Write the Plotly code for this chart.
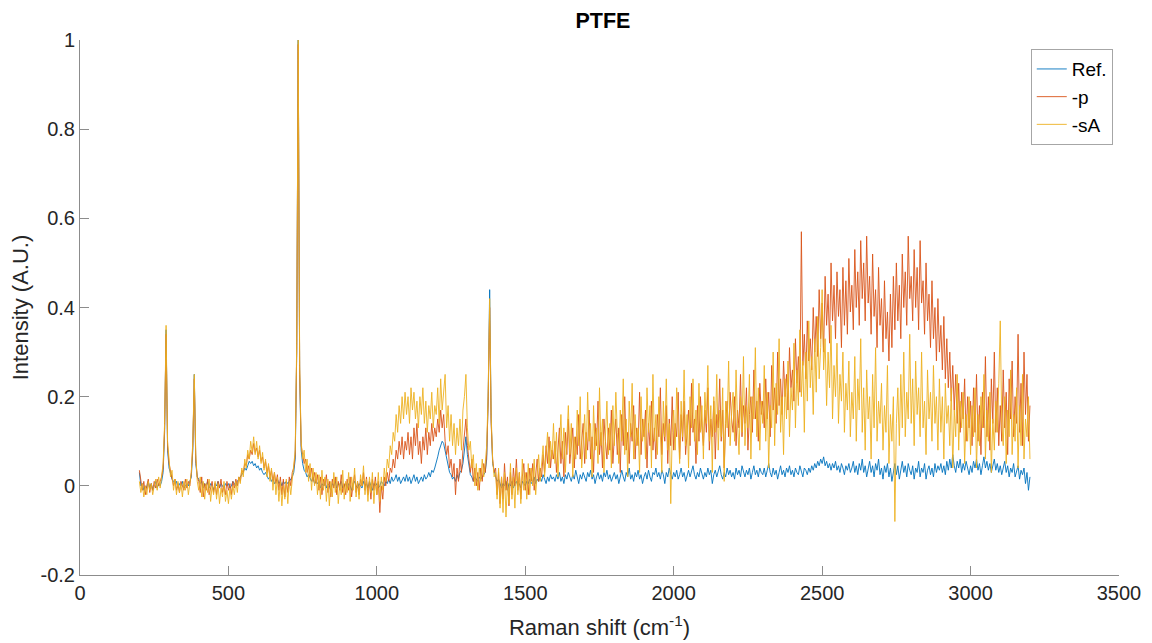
import plotly.graph_objects as go

# Raman shift sample positions (cm^-1), 5 cm^-1 spacing
shift = list(range(200, 3201, 5))

ref = [
    0.03, 0.00, 0.005, -0.01, 0.00, -0.005, 0.01, -0.005, 0.005, -0.01, 0.00, 0.01, -0.005, 0.005, 0.00, 0.01, 0.03, 0.12, 0.35, 0.08,
    0.04, 0.025, 0.015, 0.01, 0.005, 0.01, -0.005, 0.005, 0.00, 0.01, -0.005, 0.00, 0.005, 0.00, 0.01, 0.02, 0.08, 0.25, 0.05, 0.02,
    0.015, 0.005, 0.01, -0.005, 0.005, 0.00, 0.01, -0.005, 0.005, 0.00, -0.01, 0.005, 0.00, 0.01, -0.005, 0.005, 0.00, -0.005, 0.005, 0.00,
    0.005, -0.005, 0.00, 0.01, 0.005, 0.00, 0.01, 0.015, 0.02, 0.025, 0.03, 0.04, 0.035, 0.045, 0.055, 0.05, 0.055, 0.045, 0.05, 0.04,
    0.045, 0.035, 0.04, 0.03, 0.025, 0.03, 0.02, 0.015, 0.02, 0.01, 0.015, 0.005, 0.01, 0.015, 0.005, 0.01, 0.00, 0.01, 0.005, 0.01,
    0.005, 0.01, 0.015, 0.02, 0.03, 0.06, 0.30, 1.00, 0.25, 0.08, 0.05, 0.035, 0.03, 0.02, 0.025, 0.015, 0.01, 0.02, 0.005, 0.01,
    0.005, 0.01, -0.005, 0.005, 0.00, 0.01, -0.005, 0.005, 0.00, -0.01, 0.005, 0.00, 0.01, -0.005, 0.005, 0.00, 0.01, -0.005, 0.00, 0.005,
    -0.005, 0.005, 0.00, -0.01, 0.005, 0.01, 0.00, -0.005, 0.005, 0.00, -0.005, 0.01, 0.00, 0.005, -0.005, 0.01, 0.00, -0.01, 0.005, 0.00,
    0.005, -0.005, 0.00, 0.01, 0.005, 0.00, 0.01, 0.005, 0.015, 0.005, 0.02, 0.01, 0.015, 0.025, 0.01, 0.02, 0.005, 0.015, 0.02, 0.01,
    0.025, 0.01, 0.02, 0.005, 0.015, 0.025, 0.01, 0.02, 0.005, 0.015, 0.02, 0.01, 0.025, 0.015, 0.02, 0.03, 0.02, 0.035, 0.03, 0.04,
    0.05, 0.065, 0.08, 0.09, 0.10, 0.095, 0.08, 0.06, 0.045, 0.03, 0.025, 0.015, 0.02, 0.01, 0.025, 0.015, 0.03, 0.035, 0.05, 0.08,
    0.11, 0.07, 0.04, 0.025, 0.02, 0.01, 0.02, 0.015, 0.01, 0.02, 0.015, 0.02, 0.025, 0.03, 0.06, 0.20, 0.44, 0.15, 0.05, 0.03,
    0.02, 0.01, 0.015, 0.005, -0.005, 0.005, 0.00, 0.01, -0.01, 0.005, 0.00, 0.01, -0.005, 0.005, 0.01, 0.00, 0.005, -0.005, 0.01, 0.005,
    0.00, 0.01, 0.005, 0.015, 0.005, 0.01, 0.02, 0.005, 0.015, 0.01, 0.02, 0.01, 0.025, 0.015, 0.005, 0.02, 0.01, 0.025, 0.015, 0.02,
    0.01, 0.025, 0.015, 0.03, 0.01, 0.02, 0.005, 0.025, 0.015, 0.03, 0.02, 0.01, 0.025, 0.015, 0.035, 0.02, 0.005, 0.025, 0.015, 0.03,
    0.02, 0.01, 0.03, 0.02, 0.035, 0.015, 0.025, 0.005, 0.02, 0.03, 0.015, 0.025, 0.01, 0.03, 0.02, 0.035, 0.015, 0.025, 0.01, 0.02,
    0.03, 0.015, 0.025, 0.005, 0.02, 0.035, 0.02, 0.01, 0.03, 0.02, 0.04, 0.015, 0.025, 0.01, 0.03, 0.02, 0.035, 0.015, 0.025, 0.005,
    0.02, 0.03, 0.015, 0.035, 0.02, 0.01, 0.03, 0.025, 0.04, 0.02, 0.03, 0.015, 0.035, 0.025, 0.005, 0.03, 0.02, 0.04, 0.025, 0.015,
    0.03, 0.02, 0.035, 0.015, 0.025, 0.04, 0.02, 0.03, 0.01, 0.025, 0.035, 0.02, 0.03, 0.045, 0.025, 0.015, 0.03, 0.02, 0.04, 0.025,
    0.015, 0.03, 0.02, 0.04, 0.025, 0.035, 0.005, 0.025, 0.035, 0.02, 0.03, 0.045, 0.025, 0.015, 0.03, 0.02, 0.04, 0.025, 0.035, 0.02,
    0.03, 0.015, 0.04, 0.025, 0.035, 0.02, 0.045, 0.03, 0.02, 0.035, 0.025, 0.04, 0.015, 0.03, 0.045, 0.025, 0.035, 0.02, 0.04, 0.03,
    0.025, 0.04, 0.02, 0.035, 0.05, 0.03, 0.02, 0.04, 0.025, 0.035, 0.015, 0.03, 0.045, 0.025, 0.035, 0.02, 0.04, 0.03, 0.045, 0.025,
    0.035, 0.02, 0.04, 0.03, 0.025, 0.045, 0.03, 0.02, 0.04, 0.035, 0.025, 0.04, 0.03, 0.045, 0.035, 0.05, 0.04, 0.055, 0.045, 0.06,
    0.05, 0.065, 0.045, 0.055, 0.04, 0.05, 0.035, 0.05, 0.04, 0.055, 0.035, 0.045, 0.03, 0.05, 0.04, 0.025, 0.045, 0.035, 0.05, 0.03,
    0.04, 0.055, 0.03, 0.045, 0.025, 0.05, 0.035, 0.06, 0.03, 0.045, 0.02, 0.04, 0.055, 0.03, 0.045, 0.02, 0.05, 0.035, 0.06, 0.025,
    0.04, 0.015, 0.045, 0.03, 0.05, 0.02, 0.04, 0.01, 0.035, 0.05, 0.025, 0.045, 0.015, 0.04, 0.055, 0.03, 0.045, 0.02, 0.05, 0.035,
    0.025, 0.045, 0.015, 0.04, 0.03, 0.055, 0.02, 0.04, 0.03, 0.05, 0.015, 0.035, 0.045, 0.025, 0.04, 0.02, 0.05, 0.03, 0.045, 0.035,
    0.05, 0.03, 0.045, 0.025, 0.055, 0.035, 0.06, 0.04, 0.07, 0.045, 0.03, 0.055, 0.04, 0.06, 0.03, 0.05, 0.035, 0.055, 0.04, 0.025,
    0.045, 0.03, 0.055, 0.04, 0.06, 0.035, 0.05, 0.025, 0.045, 0.065, 0.04, 0.055, 0.035, 0.05, 0.03, 0.045, 0.06, 0.035, 0.05, 0.03,
    0.045, 0.025, 0.04, 0.055, 0.03, 0.045, 0.02, 0.04, 0.03, 0.05, 0.02, 0.035, 0.045, 0.015, 0.035, 0.025, 0.04, 0.005, 0.03, -0.01,
    0.02,
]

p = [
    0.035, 0.005, -0.01, 0.01, -0.02, 0.00, 0.015, -0.015, 0.005, -0.01, 0.01, -0.005, 0.015, 0.00, 0.01, 0.02, 0.04, 0.13, 0.34, 0.09,
    0.05, 0.03, 0.02, 0.00, 0.015, -0.01, 0.005, -0.015, 0.01, 0.00, -0.01, 0.015, -0.005, 0.01, 0.00, 0.03, 0.09, 0.24, 0.06, 0.02,
    0.01, -0.015, 0.02, -0.025, 0.005, -0.01, 0.015, -0.02, 0.00, 0.01, -0.015, 0.005, -0.02, 0.01, -0.005, 0.015, -0.015, 0.00, -0.02, 0.01,
    -0.01, 0.005, -0.02, 0.01, -0.005, 0.015, 0.00, 0.02, 0.01, 0.035, 0.03, 0.05, 0.045, 0.07, 0.06, 0.08, 0.07, 0.095, 0.075, 0.085,
    0.065, 0.08, 0.055, 0.065, 0.04, 0.055, 0.03, 0.045, 0.02, 0.035, 0.01, 0.03, 0.005, 0.025, -0.01, 0.02, -0.02, 0.015, -0.025, 0.01,
    -0.015, 0.02, 0.00, 0.03, 0.04, 0.07, 0.30, 0.99, 0.26, 0.09, 0.07, 0.05, 0.06, 0.03, 0.045, 0.02, 0.04, 0.01, 0.03, 0.005,
    0.025, -0.01, 0.02, -0.02, 0.015, 0.00, 0.025, -0.015, 0.01, -0.025, 0.015, -0.005, 0.02, -0.02, 0.01, -0.01, 0.025, -0.015, 0.005, -0.02,
    0.015, -0.01, 0.02, -0.025, 0.005, 0.025, -0.015, 0.01, -0.02, 0.015, 0.00, 0.03, -0.01, 0.02, -0.02, 0.01, -0.03, 0.015, -0.01, 0.02,
    -0.02, 0.01, -0.06, 0.00, -0.03, 0.02, 0.00, 0.03, 0.01, 0.04, 0.03, 0.06, 0.04, 0.08, 0.06, 0.10, 0.07, 0.11, 0.06, 0.10,
    0.08, 0.12, 0.07, 0.11, 0.06, 0.13, 0.09, 0.14, 0.07, 0.10, 0.05, 0.11, 0.08, 0.13, 0.07, 0.12, 0.09, 0.14, 0.10, 0.13,
    0.11, 0.15, 0.12, 0.17, 0.13, 0.16, 0.10, 0.07, 0.09, 0.04, 0.06, 0.02, 0.05, -0.02, 0.04, 0.01, 0.06, 0.03, 0.08, 0.12,
    0.15, 0.09, 0.05, 0.03, 0.06, 0.01, 0.04, 0.00, 0.03, -0.01, 0.04, 0.01, 0.05, 0.03, 0.07, 0.19, 0.40, 0.14, 0.06, 0.03,
    0.04, -0.02, 0.03, -0.04, 0.02, -0.03, 0.05, -0.01, 0.02, -0.045, 0.03, -0.02, 0.04, 0.00, 0.06, -0.01, 0.03, -0.03, 0.02, 0.05,
    -0.01, 0.03, -0.02, 0.04, 0.01, 0.05, -0.01, 0.03, 0.06, 0.01, 0.04, 0.02, 0.07, 0.03, 0.09, 0.05, 0.11, 0.04, 0.08, 0.06,
    0.10, 0.03, 0.08, 0.13, 0.05, 0.10, 0.02, 0.12, 0.07, 0.15, 0.05, 0.09, 0.13, 0.04, 0.11, 0.07, 0.16, 0.06, 0.10, 0.14,
    0.05, 0.12, 0.08, 0.17, 0.06, 0.11, 0.03, 0.14, 0.09, 0.19, 0.07, 0.12, 0.04, 0.15, 0.10, 0.06, 0.13, 0.08, 0.17, 0.05,
    0.11, 0.15, 0.07, 0.13, 0.03, 0.16, 0.09, 0.20, 0.08, 0.12, 0.05, 0.14, 0.10, 0.18, 0.06, 0.13, 0.09, 0.21, 0.07, 0.15,
    0.11, 0.17, 0.04, 0.14, 0.09, 0.19, 0.08, 0.13, 0.06, 0.16, 0.11, 0.22, 0.07, 0.14, 0.10, 0.18, 0.05, 0.15, 0.09, 0.20,
    0.08, 0.14, 0.11, 0.21, 0.06, 0.16, 0.10, 0.19, 0.07, 0.13, 0.17, 0.09, 0.23, 0.12, 0.15, 0.05, 0.18, 0.10, 0.20, 0.13,
    0.09, 0.17, 0.12, 0.22, 0.08, 0.15, 0.11, 0.19, 0.06, 0.16, 0.13, 0.24, 0.10, 0.17, 0.04, 0.14, 0.19, 0.11, 0.21, 0.15,
    0.12, 0.20, 0.09, 0.17, 0.13, 0.25, 0.11, 0.18, 0.14, 0.22, 0.08, 0.16, 0.20, 0.12, 0.26, 0.15, 0.19, 0.10, 0.23, 0.16,
    0.19, 0.13, 0.24, 0.15, 0.21, 0.11, 0.27, 0.17, 0.22, 0.14, 0.30, 0.18, 0.24, 0.16, 0.28, 0.20, 0.25, 0.17, 0.31, 0.22,
    0.26, 0.19, 0.33, 0.23, 0.29, 0.21, 0.57, 0.27, 0.34, 0.24, 0.37, 0.28, 0.33, 0.26, 0.40, 0.30, 0.38, 0.29, 0.44, 0.33,
    0.41, 0.30, 0.47, 0.36, 0.43, 0.32, 0.50, 0.37, 0.45, 0.33, 0.48, 0.38, 0.44, 0.31, 0.49, 0.36, 0.46, 0.34, 0.51, 0.39,
    0.45, 0.35, 0.53, 0.40, 0.48, 0.36, 0.55, 0.42, 0.50, 0.37, 0.56, 0.41, 0.47, 0.34, 0.52, 0.38, 0.44, 0.31, 0.49, 0.36,
    0.42, 0.30, 0.46, 0.33, 0.39, 0.28, 0.43, 0.31, 0.47, 0.35, 0.50, 0.37, 0.45, 0.33, 0.52, 0.40, 0.48, 0.36, 0.56, 0.42,
    0.47, 0.37, 0.53, 0.40, 0.49, 0.35, 0.55, 0.41, 0.46, 0.34, 0.50, 0.37, 0.43, 0.31, 0.46, 0.33, 0.40, 0.28, 0.42, 0.30,
    0.36, 0.26, 0.38, 0.24, 0.33, 0.22, 0.30, 0.19, 0.27, 0.17, 0.25, 0.14, 0.23, 0.12, 0.21, 0.15, 0.24, 0.10, 0.20, 0.13,
    0.19, 0.09, 0.22, 0.12, 0.25, 0.10, 0.18, 0.07, 0.21, 0.13, 0.29, 0.11, 0.20, 0.08, 0.24, 0.14, 0.30, 0.12, 0.22, 0.09,
    0.18, 0.10, 0.26, 0.13, 0.21, 0.07, 0.24, 0.15, 0.28, 0.11, 0.20, 0.14, 0.34, 0.12, 0.23, 0.09, 0.30, 0.16, 0.25, 0.10,
    0.18,
]

sA = [
    0.01, -0.015, 0.005, -0.025, 0.00, -0.02, 0.01, -0.01, 0.005, -0.02, 0.00, 0.015, -0.01, 0.02, -0.005, 0.02, 0.05, 0.14, 0.36, 0.10,
    0.06, 0.02, 0.035, -0.01, 0.015, -0.02, 0.01, -0.015, 0.005, -0.025, 0.01, -0.01, 0.015, -0.02, 0.005, 0.03, 0.10, 0.25, 0.07, 0.01,
    -0.01, 0.02, -0.025, 0.01, -0.03, 0.005, -0.015, 0.015, -0.035, 0.00, -0.02, 0.01, -0.03, 0.005, -0.04, -0.005, -0.025, 0.01, -0.035, -0.01,
    -0.04, -0.005, -0.03, 0.00, -0.02, 0.01, -0.015, 0.02, 0.005, 0.04, 0.02, 0.06, 0.04, 0.08, 0.06, 0.10, 0.075, 0.11, 0.07, 0.10,
    0.06, 0.09, 0.05, 0.075, 0.035, 0.06, 0.02, 0.05, 0.01, 0.04, -0.01, 0.03, -0.02, 0.02, -0.035, 0.01, -0.045, 0.00, -0.03, 0.015,
    -0.04, 0.01, -0.02, 0.02, 0.045, 0.08, 0.32, 1.00, 0.27, 0.10, 0.06, 0.08, 0.03, 0.06, 0.01, 0.05, -0.01, 0.04, 0.00, 0.03,
    -0.02, 0.025, -0.03, 0.035, -0.01, 0.02, -0.035, 0.015, -0.045, 0.01, -0.025, 0.03, -0.015, 0.02, -0.04, 0.005, -0.02, 0.035, -0.03, 0.01,
    -0.015, 0.03, -0.035, 0.02, -0.01, 0.04, -0.025, 0.01, -0.03, 0.025, 0.00, 0.045, -0.02, 0.015, -0.035, 0.02, -0.015, 0.03, -0.04, 0.01,
    -0.02, 0.03, -0.035, 0.02, -0.01, 0.04, 0.01, 0.06, 0.04, 0.09, 0.07, 0.12, 0.10, 0.16, 0.12, 0.18, 0.14, 0.20, 0.15, 0.21,
    0.16, 0.20, 0.14, 0.22, 0.17, 0.21, 0.15, 0.19, 0.13, 0.20, 0.16, 0.22, 0.14, 0.19, 0.12, 0.18, 0.15, 0.21, 0.13, 0.18,
    0.16, 0.22, 0.14, 0.24, 0.17, 0.21, 0.25, 0.13, 0.18, 0.10, 0.16, 0.09, 0.14, 0.07, 0.13, 0.09, 0.15, 0.08, 0.17, 0.20,
    0.25, 0.13, 0.08, 0.10, 0.04, 0.07, 0.00, 0.05, -0.01, 0.04, 0.01, 0.06, 0.02, 0.05, 0.09, 0.21, 0.42, 0.16, 0.06, 0.02,
    0.03, -0.03, 0.04, -0.05, 0.02, -0.06, 0.03, -0.07, 0.01, -0.04, 0.05, -0.03, 0.02, -0.05, 0.04, -0.02, 0.03, -0.04, 0.06, -0.01,
    0.03, -0.03, 0.05, -0.02, 0.04, 0.00, 0.06, -0.02, 0.03, 0.07, 0.01, 0.05, 0.09, 0.02, 0.07, 0.12, 0.04, 0.10, 0.06, 0.14,
    0.05, 0.12, 0.02, 0.09, 0.16, 0.06, 0.13, 0.03, 0.10, 0.18, 0.07, 0.14, 0.02, 0.11, 0.06, 0.17, 0.09, 0.20, 0.04, 0.12,
    0.16, 0.06, 0.21, 0.10, 0.14, 0.02, 0.18, 0.08, 0.13, 0.05, 0.22, 0.09, 0.15, 0.03, 0.12, 0.19, 0.07, 0.14, 0.04, 0.18,
    0.09, 0.21, 0.12, 0.05, 0.17, 0.10, 0.24, 0.07, 0.15, 0.02, 0.19, 0.11, 0.23, 0.06, 0.16, 0.09, 0.13, 0.03, 0.20, 0.10,
    0.15, 0.06, 0.22, 0.12, 0.18, 0.04, 0.25, 0.10, 0.16, 0.07, 0.20, 0.13, 0.03, 0.19, 0.11, 0.24, 0.08, 0.14, -0.04, 0.12,
    0.17, 0.08, 0.22, 0.13, 0.05, 0.19, 0.11, 0.26, 0.09, 0.16, 0.04, 0.20, 0.13, 0.24, 0.10, 0.17, 0.07, 0.23, 0.12, 0.18,
    0.06, 0.21, 0.14, 0.27, 0.10, 0.18, 0.03, 0.20, 0.12, 0.25, 0.08, 0.17, 0.11, 0.22, 0.01, 0.19, 0.13, 0.28, 0.09, 0.16,
    0.21, 0.10, 0.26, 0.14, 0.07, 0.20, 0.12, 0.29, 0.09, 0.18, 0.13, 0.25, 0.06, 0.20, 0.15, 0.31, 0.11, 0.22, 0.08, 0.19,
    0.14, 0.27, 0.10, 0.21, 0.04, 0.18, 0.13, 0.30, 0.09, 0.23, 0.16, 0.33, 0.12, 0.20, 0.07, 0.24, 0.15, 0.28, 0.11, 0.22,
    0.17, 0.32, 0.13, 0.26, 0.18, 0.35, 0.20, 0.28, 0.12, 0.30, 0.19, 0.37, 0.22, 0.29, 0.16, 0.33, 0.21, 0.38, 0.24, 0.31,
    0.44, 0.26, 0.33, 0.18, 0.30, 0.22, 0.36, 0.15, 0.27, 0.20, 0.32, 0.14, 0.25, 0.19, 0.30, 0.12, 0.23, 0.17, 0.28, 0.11,
    0.21, 0.15, 0.29, 0.10, 0.24, 0.17, 0.33, 0.12, 0.22, 0.08, 0.26, 0.15, 0.20, 0.06, 0.25, 0.13, 0.31, 0.10, 0.19, 0.14,
    0.23, 0.08, 0.18, 0.12, 0.27, 0.05, 0.16, 0.10, 0.20, -0.08, 0.14, 0.22, 0.09, 0.25, 0.13, 0.30, 0.11, 0.21, 0.15, 0.34,
    0.14, 0.24, 0.09, 0.28, 0.16, 0.22, 0.11, 0.30, 0.13, 0.19, 0.07, 0.26, 0.15, 0.21, 0.10, 0.27, 0.14, 0.20, 0.08, 0.24,
    0.12, 0.20, 0.06, 0.23, 0.14, 0.18, 0.09, 0.22, 0.04, 0.17, 0.11, 0.25, 0.08, 0.19, 0.13, 0.21, 0.05, 0.16, 0.10, 0.20,
    0.07, 0.18, 0.11, 0.22, 0.04, 0.16, 0.09, 0.20, 0.13, 0.25, 0.06, 0.17, 0.10, 0.21, 0.03, 0.15, 0.08, 0.19, 0.12, 0.23,
    0.37, 0.14, 0.09, 0.20, 0.05, 0.17, 0.11, 0.26, 0.07, 0.16, 0.10, 0.22, 0.04, 0.18, 0.09, 0.25, 0.06, 0.15, 0.11, 0.20,
    0.06,
]

assert len(ref) == len(shift) and len(p) == len(shift) and len(sA) == len(shift)

series_names = ["Ref.", "-p", "-sA"]
series_colors = ["#0072BD", "#D95319", "#EDB120"]

x_ticks = [0, 500, 1000, 1500, 2000, 2500, 3000, 3500]
y_ticks = [-0.2, 0, 0.2, 0.4, 0.6, 0.8, 1]
y_ticklabels = ["-0.2", "0", "0.2", "0.4", "0.6", "0.8", "1"]

FONT = "Liberation Sans, Arial, Helvetica, sans-serif"
TXT = "#262626"
AX = "#8c8c8c"

fig = go.Figure()
for name, col, vals in zip(series_names, series_colors, [ref, p, sA]):
    fig.add_trace(go.Scatter(
        x=shift, y=vals, mode="lines", name=name,
        line=dict(color=col, width=0.9),
    ))

# the page adds an 8 px body margin, so the figure is offset accordingly
fig.update_layout(
    width=1152, height=643,
    paper_bgcolor="white", plot_bgcolor="white",
    margin=dict(l=72, r=41, t=32, b=76),
    font=dict(family=FONT, color=TXT, size=20),
    title=dict(text="<b>PTFE</b>", x=595 / 1152, xref="container", xanchor="center",
               y=1 - 12 / 643, yref="container", yanchor="middle",
               font=dict(family=FONT, size=21.5, color="#000000")),
    showlegend=True,
    legend=dict(x=0.994, y=0.983, xanchor="right", yanchor="top",
                bgcolor="white", bordercolor="#a6a6a6", borderwidth=1,
                font=dict(family=FONT, size=19, color="#000000"),
                tracegroupgap=0, itemwidth=30),
)

fig.update_xaxes(
    range=[0, 3500], tickvals=x_ticks, ticks="inside", ticklen=9,
    tickcolor=AX, showline=True, linecolor=AX, linewidth=1,
    showgrid=False, zeroline=False, mirror=False, automargin=False,
    tickfont=dict(size=20, color=TXT),
    title=dict(text="Raman shift (cm<sup>-1</sup>)", font=dict(size=22, color=TXT), standoff=16),
)
fig.update_yaxes(
    range=[-0.2, 1], tickvals=y_ticks, ticktext=y_ticklabels, ticks="inside", ticklen=9,
    tickcolor=AX, showline=True, linecolor=AX, linewidth=1,
    showgrid=False, zeroline=False, mirror=False, automargin=False,
    tickfont=dict(size=20, color=TXT),
    title=dict(text="Intensity (A.U.)", font=dict(size=22, color=TXT), standoff=9),
)

fig.write_html("out.html")
